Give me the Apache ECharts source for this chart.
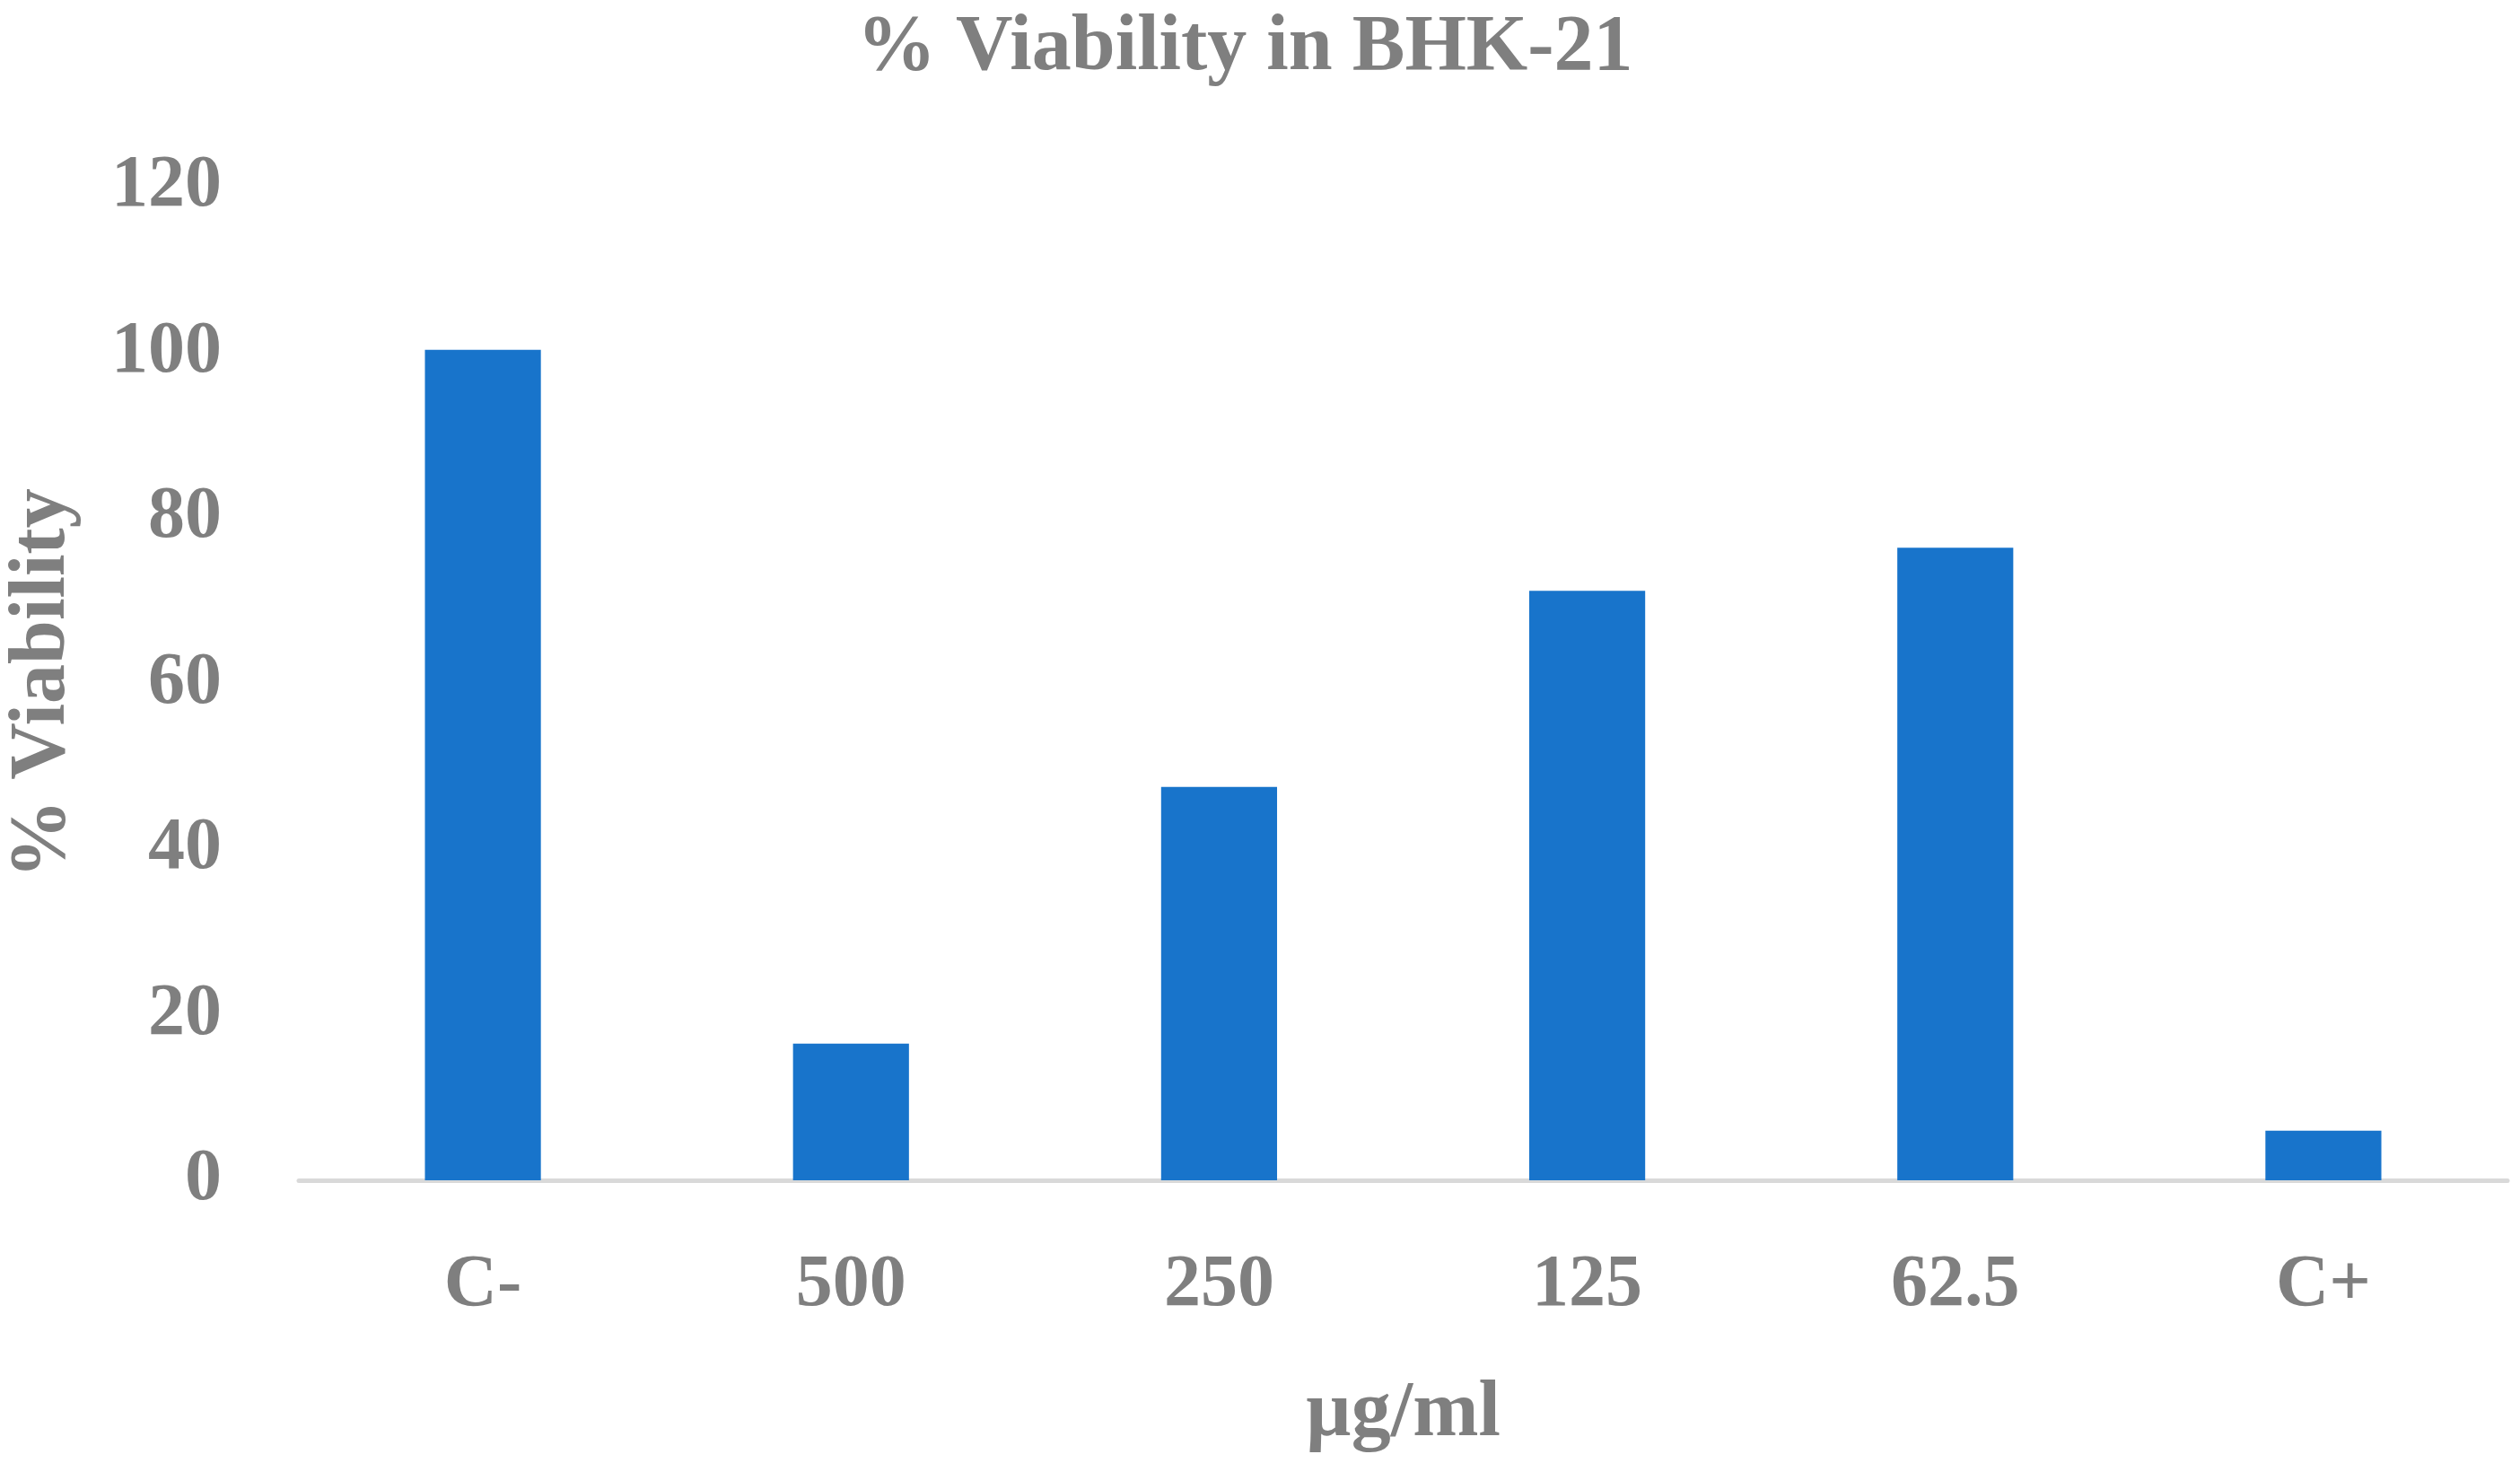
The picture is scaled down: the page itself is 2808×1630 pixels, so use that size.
<!DOCTYPE html>
<html>
<head>
<meta charset="utf-8">
<script src="https://cdn.jsdelivr.net/npm/echarts@6/dist/echarts.min.js"></script>
<style>
  html, body { margin: 0; padding: 0; background: #fff; }
  #main { width: 2808px; height: 1630px; }
</style>
</head>
<body>
<div id="main"></div>
<script>
  var categories = ['C-', '500', '250', '125', '62.5', 'C+'];
  var viability = [100.3, 16.5, 47.5, 71.2, 76.4, 6.0];
  var yTicks = { min: 0, max: 120, interval: 20 };

  var font = '"Palatino Linotype", "Book Antiqua", "Liberation Serif", serif';
  var grey = '#7f7f7f';

  var myChart = echarts.init(document.getElementById('main'));
  myChart.setOption({
    animation: false,
    title: {
      text: '% Viability in BHK-21',
      left: 950,
      top: 5,
      textStyle: { fontFamily: font, fontWeight: 'bold', fontSize: 88, color: grey }
    },
    grid: { left: 333, right: 14, top: 208, bottom: 315, outerBoundsMode: 'none' },
    xAxis: {
      type: 'category',
      data: categories,
      name: 'µg/ml',
      nameLocation: 'middle',
      nameGap: 217,
      nameTextStyle: { fontFamily: font, fontWeight: 'bold', fontSize: 88, color: grey },
      axisLine: { lineStyle: { color: '#d9d9d9', width: 5 } },
      axisTick: { show: false },
      axisLabel: { margin: 77, fontFamily: font, fontWeight: 'bold', fontSize: 82, color: grey }
    },
    yAxis: {
      type: 'value',
      min: yTicks.min,
      max: yTicks.max,
      interval: yTicks.interval,
      name: '% Viability',
      nameLocation: 'middle',
      nameGap: 241,
      nameTextStyle: { fontFamily: font, fontWeight: 'bold', fontSize: 88, color: grey },
      axisLine: { show: false },
      axisTick: { show: false },
      splitLine: { show: false },
      axisLabel: { margin: 86, fontFamily: font, fontWeight: 'bold', fontSize: 82, color: grey }
    },
    series: [{
      type: 'bar',
      data: viability,
      barWidth: '31.5%',
      itemStyle: { color: '#1874cb' }
    }]
  });
</script>
</body>
</html>
